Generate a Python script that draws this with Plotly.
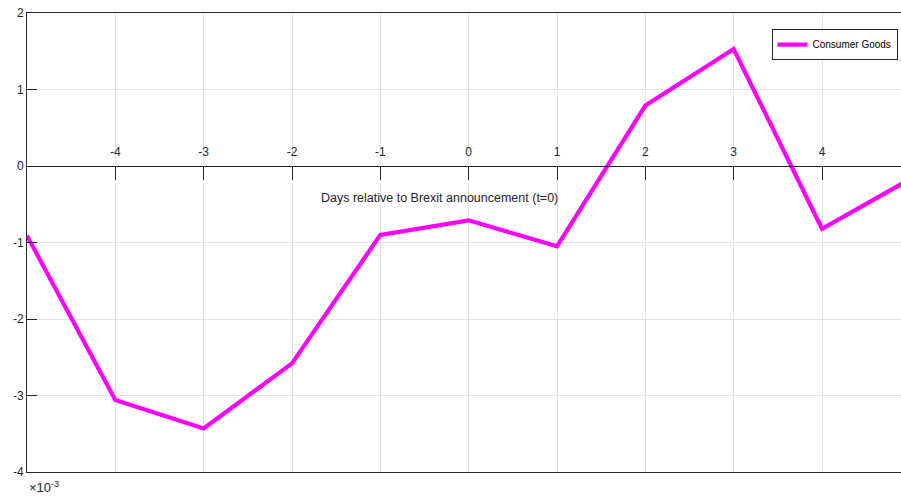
import plotly.graph_objects as go

# Event-window returns around the Brexit announcement (values in units of 1e-3)
days = [-5, -4, -3, -2, -1, 0, 1, 2, 3, 4, 5]
consumer_goods = [-0.91, -3.06, -3.43, -2.58, -0.90, -0.71, -1.05, 0.79, 1.53, -0.82, -0.17]
day_ticks = [-4, -3, -2, -1, 1, 2, 3, 4, 0]
y_ticks = [-4, -3, -2, -1, 0, 1, 2]

FONT = "Liberation Sans, Arial, sans-serif"
GRID = "#e3e3e3"

fig = go.Figure()

fig.add_trace(go.Scatter(
    x=days, y=consumer_goods, mode="lines", name="Consumer Goods",
    line=dict(color="#ff00ff", width=4.2), xaxis="x", yaxis="y",
))

# carrier trace so the axis crossing at y=0 gets drawn
fig.add_trace(go.Scatter(
    x=[0], y=[0], mode="markers", marker=dict(opacity=0), showlegend=False,
    hoverinfo="skip", xaxis="x2", yaxis="y",
))

y_lo, y_hi = -4, 2
fig.update_layout(
    width=901, height=498,
    margin=dict(l=27, r=0, t=13, b=26),
    paper_bgcolor="white", plot_bgcolor="white",
    font=dict(family=FONT, size=12, color="#262626"),
    xaxis=dict(
        range=[-5, 4.894], tickvals=list(range(-5, 6)), showticklabels=False,
        showgrid=True, gridcolor=GRID, gridwidth=1, zeroline=False,
        showline=True, linecolor="#262626", linewidth=1, mirror=True, ticks="",
    ),
    xaxis2=dict(
        overlaying="x", matches="x", anchor="free",
        position=(0 - y_lo) / (y_hi - y_lo), side="top",
        tickvals=day_ticks, ticktext=[str(v) for v in day_ticks],
        ticks="inside", ticklen=13, tickcolor="#262626", tickwidth=1,
        ticklabelstandoff=5,
        showline=True, linecolor="#262626", linewidth=1,
        showgrid=False, zeroline=False,
        tickfont=dict(family=FONT, size=12, color="#262626"),
    ),
    yaxis=dict(
        range=[y_lo, y_hi], tickvals=y_ticks, ticktext=[str(v) for v in y_ticks],
        showgrid=True, gridcolor=GRID, gridwidth=1, zeroline=False,
        showline=True, linecolor="#262626", linewidth=1,
        ticks="inside", ticklen=10, tickcolor="#262626",
        tickfont=dict(family=FONT, size=12, color="#262626"),
    ),
    legend=dict(
        x=0.996, y=0.965, xanchor="right", yanchor="top",
        bgcolor="white", bordercolor="#262626", borderwidth=1,
        font=dict(family=FONT, size=10, color="black"),
        itemwidth=30, tracegroupgap=0,
    ),
    showlegend=True,
    annotations=[
        dict(text="Days relative to Brexit announcement (t=0)",
             x=-0.33, y=-0.42, xref="x", yref="y", showarrow=False,
             font=dict(family=FONT, size=12.5, color="#262626")),
        dict(text="\u00d710<sup>-3</sup>", x=0, y=0, xref="paper", yref="paper",
             xanchor="left", yanchor="top", yshift=-5, showarrow=False,
             font=dict(family=FONT, size=13, color="#262626")),
    ],
)

fig.write_html("out.html")
